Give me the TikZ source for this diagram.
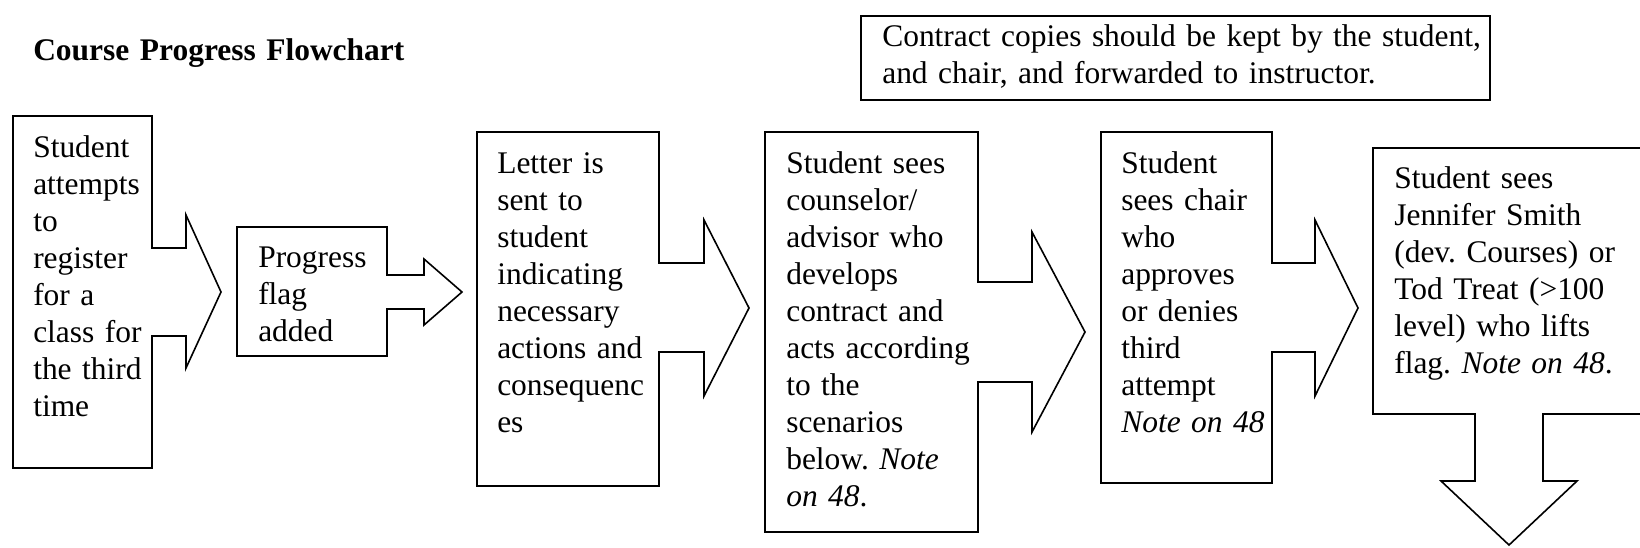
\documentclass[tikz,border=0pt]{standalone}
\usepackage{fontspec}
\setmainfont{Liberation Serif}
\frenchspacing
\begin{document}
\begin{tikzpicture}[x=0.75pt,y=-0.75pt,
  callout/.style={draw=black, line width=1.2pt, line join=miter},
  txt/.style={anchor=base west, inner sep=0pt, text width=250pt, align=left,
    font=\fontsize{23.6pt}{27.75pt}\selectfont\frenchspacing}]
\useasboundingbox (0,0) rectangle (1640,547);
\clip (0,0) rectangle (1640,547);

% title
\node[txt, text width=500pt, font=\fontsize{23.6pt}{27.75pt}\selectfont\bfseries] (title) at (33,60) {Course Progress Flowchart};

% note box
\draw[callout] (861,16) rectangle (1490,100);
\node[txt, text width=520pt] (tc) at (882,46) {Contract copies should be kept by the student,\\and chair, and forwarded to instructor.};

% shape 1
\draw[callout] (13,116) -- (152,116) -- (152,248) -- (186,248) -- (186,215) -- (221,292)
  -- (186,368) -- (186,336) -- (152,336) -- (152,468) -- (13,468) -- cycle;
\node[txt] (t1) at (33,157) {Student\\attempts\\to\\register\\for a\\class for\\the third\\time};

% shape 2
\draw[callout] (237,227) -- (387,227) -- (387,275) -- (424,275) -- (424,259) -- (462,292)
  -- (424,325) -- (424,309) -- (387,309) -- (387,356) -- (237,356) -- cycle;
\node[txt] (t2) at (258,267) {Progress\\flag\\added};

% shape 3
\draw[callout] (477,132) -- (659,132) -- (659,263) -- (704,263) -- (704,220) -- (749,308)
  -- (704,396) -- (704,352) -- (659,352) -- (659,486) -- (477,486) -- cycle;
\node[txt] (t3) at (497,173) {Letter is\\sent to\\student\\indicating\\necessary\\actions and\\consequenc\\es};

% shape 4
\draw[callout] (765,132) -- (978,132) -- (978,282) -- (1032,282) -- (1032,232) -- (1085,332)
  -- (1032,432) -- (1032,382) -- (978,382) -- (978,532) -- (765,532) -- cycle;
\node[txt] (t4) at (786,173) {Student sees\\counselor/\\advisor who\\develops\\contract and\\acts according\\to the\\scenarios\\below. \textit{Note}\\\textit{on 48}.};

% shape 5
\draw[callout] (1101,132) -- (1272,132) -- (1272,263) -- (1315,263) -- (1315,220) -- (1358,308)
  -- (1315,396) -- (1315,352) -- (1272,352) -- (1272,483) -- (1101,483) -- cycle;
\node[txt] (t5) at (1121,173) {Student\\sees chair\\who\\approves\\or denies\\third\\attempt\\\textit{Note on 48}};

% shape 6 (down arrow callout)
\draw[callout] (1373,148) -- (1670,148) -- (1670,414) -- (1543,414) -- (1543,481) -- (1577,481)
  -- (1509,545) -- (1441,481) -- (1475,481) -- (1475,414) -- (1373,414) -- cycle;
\node[txt] (t6) at (1394,188) {Student sees\\Jennifer Smith\\(dev. Courses) or\\Tod Treat (>100\\level) who lifts\\flag. \textit{Note on 48}.};
\end{tikzpicture}
\end{document}
